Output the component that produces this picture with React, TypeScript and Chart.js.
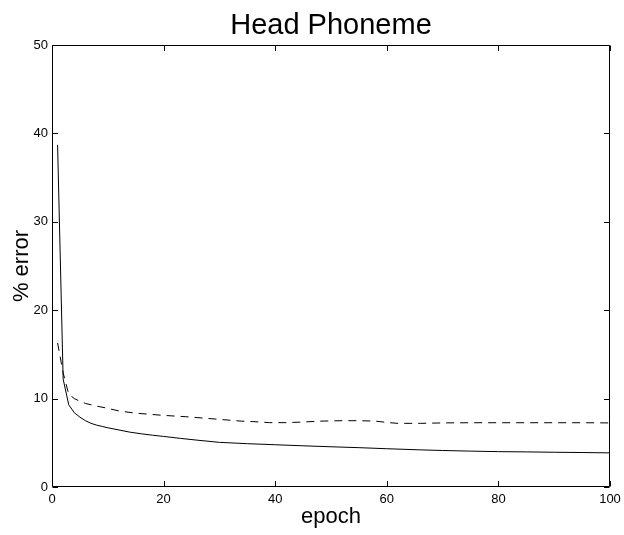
import React, { useEffect, useRef } from "react";
import { Chart, registerables } from "chart.js";

Chart.register(...registerables);

const TITLE = "Head Phoneme";
const X_LABEL = "epoch";
const Y_LABEL = "% error";
const X_TICKS = [0, 20, 40, 60, 80, 100];
const Y_TICKS = [0, 10, 20, 30, 40, 50];

const solidEpochs = [1, 2, 3, 4, 5, 6, 7, 8, 9, 10, 12, 14, 16, 18, 20, 23, 26, 30, 35, 40, 45, 50, 55, 60, 66, 70, 75, 80, 85, 90, 95, 100];
const solidError = [38.7, 12.2, 9.3, 8.4, 7.9, 7.5, 7.2, 7.0, 6.85, 6.7, 6.45, 6.2, 6.02, 5.86, 5.72, 5.5, 5.3, 5.05, 4.9, 4.78, 4.66, 4.55, 4.45, 4.33, 4.2, 4.13, 4.06, 4.0, 3.97, 3.93, 3.9, 3.86];

const dashedEpochs = [1, 2, 3, 4, 5, 6, 7, 8, 10, 12, 15, 18, 20, 24, 28, 30, 34, 36, 39, 42, 45, 48, 52, 55, 58, 60, 62, 66, 70, 75, 80, 85, 90, 95, 100];
const dashedError = [16.3, 12.9, 10.5, 10.0, 9.7, 9.45, 9.3, 9.15, 8.9, 8.6, 8.35, 8.2, 8.1, 7.95, 7.75, 7.65, 7.45, 7.4, 7.28, 7.28, 7.35, 7.45, 7.5, 7.5, 7.45, 7.3, 7.2, 7.2, 7.25, 7.27, 7.27, 7.27, 7.27, 7.27, 7.25];

const FONT = "'Liberation Sans', Arial, Helvetica, sans-serif";

const boxPlugin = {
  id: "matlabBox",
  afterDatasetsDraw(chart: any) {
    const { ctx, chartArea, scales } = chart;
    const { left, right, top, bottom } = chartArea;
    const xs = scales.x;
    const ys = scales.y;
    const L = Math.round(left) + 0.5;
    const R = Math.round(right) - 0.5;
    const T = Math.round(top) + 0.5;
    const B = Math.round(bottom) - 0.5;
    const tl = 5.5;
    ctx.save();
    ctx.strokeStyle = "#000";
    ctx.lineWidth = 1;
    ctx.setLineDash([]);
    ctx.beginPath();
    ctx.rect(L, T, R - L, B - T);
    X_TICKS.forEach((v) => {
      const px = Math.round(xs.getPixelForValue(v)) + 0.5;
      ctx.moveTo(px, B);
      ctx.lineTo(px, B - tl);
      ctx.moveTo(px, T);
      ctx.lineTo(px, T + tl);
    });
    Y_TICKS.forEach((v) => {
      const py = Math.round(ys.getPixelForValue(v)) + 0.5;
      ctx.moveTo(L, py);
      ctx.lineTo(L + tl, py);
      ctx.moveTo(R, py);
      ctx.lineTo(R - tl, py);
    });
    ctx.stroke();
    ctx.restore();
  },
};

export default function App() {
  const ref = useRef<HTMLCanvasElement | null>(null);

  useEffect(() => {
    if (!ref.current) return;
    Chart.defaults.font.family = FONT;
    Chart.defaults.color = "#000";
    const chart = new Chart(ref.current, {
      type: "scatter",
      data: {
        datasets: [
          {
            label: "train",
            data: solidEpochs.map((e, i) => ({ x: e, y: solidError[i] })),
            showLine: true,
            borderColor: "#000",
            borderWidth: 1,
            pointRadius: 0,
            tension: 0,
            fill: false,
          },
          {
            label: "test",
            data: dashedEpochs.map((e, i) => ({ x: e, y: dashedError[i] })),
            showLine: true,
            borderColor: "#000",
            borderWidth: 1,
            borderDash: [8, 6],
            pointRadius: 0,
            tension: 0,
            fill: false,
          },
        ],
      },
      options: {
        animation: false,
        responsive: false,
        devicePixelRatio: 1,
        layout: { padding: { left: 0, right: 14, top: 0, bottom: 0 } },
        plugins: {
          legend: { display: false },
          tooltip: { enabled: false },
          title: {
            display: true,
            text: TITLE,
            fullSize: false,
            color: "#000",
            font: { size: 29, weight: "normal", family: FONT },
            padding: { top: 9, bottom: 1.2 },
          },
        },
        scales: {
          x: {
            type: "linear",
            min: 0,
            max: 100,
            grid: { display: false, drawTicks: false },
            border: { display: false },
            afterBuildTicks: (s: any) => {
              s.ticks = X_TICKS.map((v) => ({ value: v }));
            },
            afterFit: (s: any) => {
              s.height = 48;
              s.paddingLeft = 0;
              s.paddingRight = 0;
            },
            ticks: { padding: 5, font: { size: 13 }, color: "#000", maxRotation: 0 },
            title: {
              display: true,
              text: X_LABEL,
              color: "#000",
              font: { size: 22 },
              padding: { top: 0, bottom: 5 },
            },
          },
          y: {
            type: "linear",
            min: 0,
            max: 50,
            grid: { display: false, drawTicks: false },
            border: { display: false },
            afterBuildTicks: (s: any) => {
              s.ticks = Y_TICKS.map((v) => ({ value: v }));
            },
            afterFit: (s: any) => {
              s.width = 52;
              s.paddingTop = 0;
              s.paddingBottom = 0;
            },
            ticks: { padding: 4, font: { size: 13 }, color: "#000" },
            title: {
              display: true,
              text: Y_LABEL,
              color: "#000",
              font: { size: 22 },
              padding: { top: 8.5, bottom: 0 },
            },
          },
        },
      },
      plugins: [boxPlugin],
    } as any);
    return () => chart.destroy();
  }, []);

  return (
    <div style={{ position: "fixed", left: 0, top: 0, width: 624, height: 535, background: "#fff" }}>
      <canvas ref={ref} width={624} height={535} style={{ display: "block", width: 624, height: 535 }} />
    </div>
  );
}
